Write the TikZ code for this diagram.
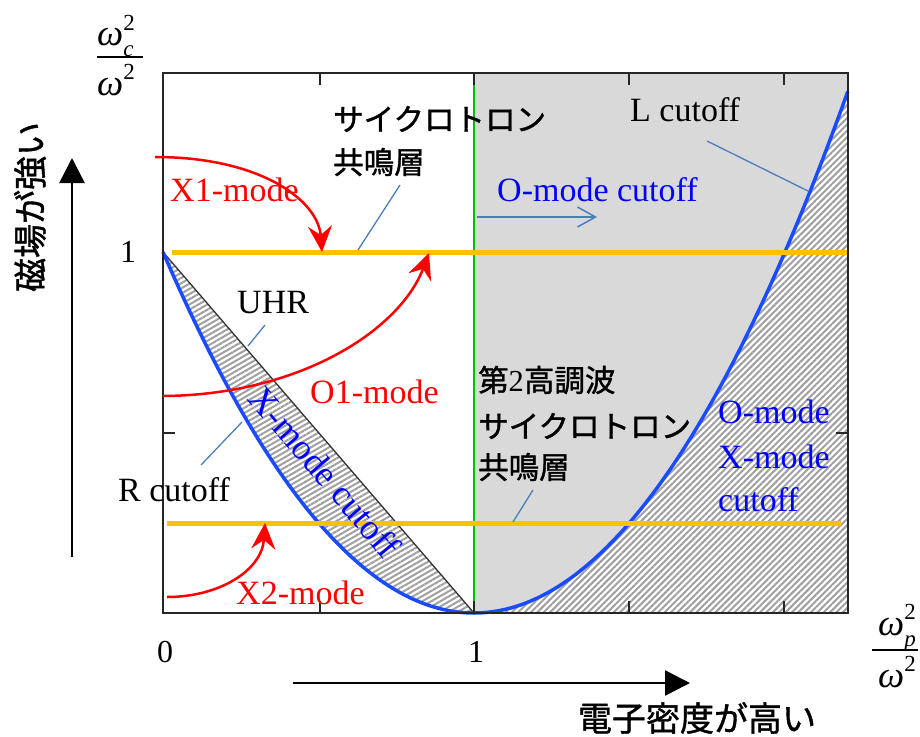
\documentclass[tikz,border=0pt]{standalone}
\usepackage{fontspec}
\setmainfont{Liberation Serif}
\newfontfamily\jp[FakeBold=1.2]{Noto Sans CJK JP}
\usetikzlibrary{arrows.meta,patterns.meta}
\definecolor{orng}{HTML}{FFC000}
\definecolor{cblue}{HTML}{1A4BFF}
\definecolor{tblue}{HTML}{0000FF}
\definecolor{lead}{HTML}{4A7EBB}
\definecolor{grn}{HTML}{00C000}
\definecolor{gfill}{HTML}{D9D9D9}
\newcommand{\smallidx}{\fontsize{23}{23}\selectfont}
\newcommand{\omsub}[1]{\textit{ω}\rlap{\raisebox{0.42em}{\smallidx 2}}\raisebox{-0.3em}{\smallidx\textit{#1}}}
\newcommand{\omsq}{\textit{ω}\raisebox{0.42em}{\smallidx 2}}
\begin{document}
\begin{tikzpicture}[x=1pt,y=-1pt,
  serif/.style={font=\fontsize{34}{40}\selectfont, inner sep=0pt},
  jplbl/.style={font=\jp\fontsize{30.5}{36}\selectfont, inner sep=0pt},
  axjp/.style={font=\jp\fontsize{34}{40}\selectfont, inner sep=0pt},
  num/.style={font=\fontsize{32}{36}\selectfont, inner sep=0pt},
  fracpart/.style={anchor=west, inner sep=0pt, font=\fontsize{37}{40}\selectfont},
  fracbar/.style={black, line width=2pt},
  redarr/.style={red, line width=2.5pt, -{Stealth[length=26pt,width=24pt,inset=9pt]}},
  leader/.style={lead, line width=1.3pt},
  bigarr/.style={black, line width=2.5pt, -{Triangle[length=25pt,width=25pt]}},
  hatch/.style={preaction={fill=white}, pattern={Lines[angle=#1,distance=4.5pt,line width=2pt]}, pattern color=gray!75},
  tick/.style={black!85, line width=2.5pt}
]
\useasboundingbox (0,0) rectangle (920,736);

% gray region
\fill[gfill] (474,73) rectangle (848,613);
% right hatched region under L cutoff
\path[hatch=45] (474,613) -- plot[domain=1:2.2026,samples=60] ({163+311*\x},{613-361*(\x-1)^2}) -- (848,613) -- cycle;
% left hatched region between UHR and R cutoff
\path[hatch=30] (163,252) -- (474,613) -- plot[domain=1:0,samples=60] ({163+311*\x},{613-361*(1-\x)^2}) -- cycle;
% UHR line
\draw[black!80, line width=1.3pt] (163,252) -- (474,613);
% cutoff curves
\draw[cblue, line width=3.5pt] plot[domain=0:1,samples=60] ({163+311*\x},{613-361*(1-\x)^2});
\draw[cblue, line width=3.5pt] plot[domain=1:2.2026,samples=60] ({163+311*\x},{613-361*(\x-1)^2});
% green line
\draw[grn, line width=1.5pt] (474,73) -- (474,613);
% resonance layers
\draw[orng, line width=5pt] (172,252) -- (848,252);
\draw[orng, line width=5pt] (167,523) -- (841,523);
% frame and ticks
\draw[black!85, line width=2.5pt] (163,73) rectangle (848,613);
\foreach \t in {320,474,629,784} {
  \draw[tick] (\t,73) -- (\t,85);
  \draw[tick] (\t,613) -- (\t,601);
}
\draw[tick] (163,433) -- (175,433);
\draw[tick] (848,433) -- (836,433);

% axis fraction labels
\node[fracpart] (ynum) at (97,36) {\omsub{c}};
\node[fracpart] (yden) at (97,80) {\omsq};
\coordinate (yb0) at (97,57); \coordinate (yb1) at (143,57);
\draw[fracbar] (yb0) -- (yb1);
\node[fracpart] (xnum) at (878,628) {\omsub{p}};
\node[fracpart] (xden) at (878,672) {\omsq};
\coordinate (xb0) at (872,650); \coordinate (xb1) at (918,650);
\draw[fracbar] (xb0) -- (xb1);

\node[num] (one y) at (128,252) {1};
\node[num] (zero) at (165,652) {0};
\node[num] (one x) at (476,652) {1};

% big axis arrows
\coordinate (ya0) at (72,557);
\coordinate (ya1) at (72,158);
\draw[bigarr] (ya0) -- (ya1);
\coordinate (xa0) at (293,683);
\coordinate (xa1) at (690,683);
\draw[bigarr] (xa0) -- (xa1);
\node[axjp, rotate=90] (ylab) at (30,207) {磁場が強い};
\node[axjp] (xlab) at (697,718) {電子密度が高い};

% Japanese labels
\node[jplbl, anchor=west] (cyc1) at (333,119) {サイクロトロン};
\node[jplbl, anchor=west] (cyc2) at (333,162) {共鳴層};
\node[jplbl, anchor=west] (sec1) at (478,380) {第{\rmfamily 2}高調波};
\node[jplbl, anchor=west] (sec2) at (478,426) {サイクロトロン};
\node[jplbl, anchor=west] (sec3) at (478,467) {共鳴層};

% leaders
\coordinate (l1a) at (400,185); \coordinate (l1b) at (358,250);
\draw[leader] (l1a) -- (l1b);
\coordinate (l2a) at (265,325); \coordinate (l2b) at (248,346);
\draw[leader] (l2a) -- (l2b);
\coordinate (l3a) at (242,422); \coordinate (l3b) at (201,465);
\draw[leader] (l3a) -- (l3b);
\coordinate (l4a) at (707,141); \coordinate (l4b) at (808,191);
\draw[leader] (l4a) -- (l4b);
\coordinate (l5a) at (533,490); \coordinate (l5b) at (513,522);
\draw[leader] (l5a) -- (l5b);
\coordinate (oa0) at (477,217); \coordinate (oa1) at (597,217);
\draw[lead, line width=1.5pt, -{Straight Barb[length=18pt,width=20pt]}] (oa0) -- (oa1);

% serif labels
\node[serif, anchor=west, text=red] (x1) at (170,190) {X1-mode};
\node[serif, anchor=west, text=red] (o1) at (310,392) {O1-mode};
\node[serif, anchor=west, text=red] (x2) at (236,593) {X2-mode};
\node[serif, anchor=west] (uhr) at (237,303) {UHR};
\node[serif, anchor=west] (rcut) at (118,490) {R cutoff};
\node[serif, anchor=west] (lcut) at (630,110) {L cutoff};
\node[serif, anchor=west, text=tblue] (ocut) at (497,190) {O-mode cutoff};
\node[serif, text=tblue, rotate=-49.5, font=\fontsize{36}{40}\selectfont] (xcut) at (325,472) {X-mode cutoff};
\node[serif, anchor=west, text=tblue] (ox1) at (718,412) {O-mode};
\node[serif, anchor=west, text=tblue] (ox2) at (718,457) {X-mode};
\node[serif, anchor=west, text=tblue] (ox3) at (718,500) {cutoff};

% red mode arrows
\coordinate (x1s) at (155,157); \coordinate (x1e) at (322,252);
\draw[redarr] (x1s) .. controls (260,157) and (318,200) .. (x1e);
\coordinate (o1s) at (163,396); \coordinate (o1e) at (429,253);
\draw[redarr] (o1s) .. controls (300,395) and (400,330) .. (o1e);
\coordinate (x2s) at (167,597); \coordinate (x2e) at (265,523);
\draw[redarr] (x2s) .. controls (220,597) and (262,570) .. (x2e);
\end{tikzpicture}
\end{document}
